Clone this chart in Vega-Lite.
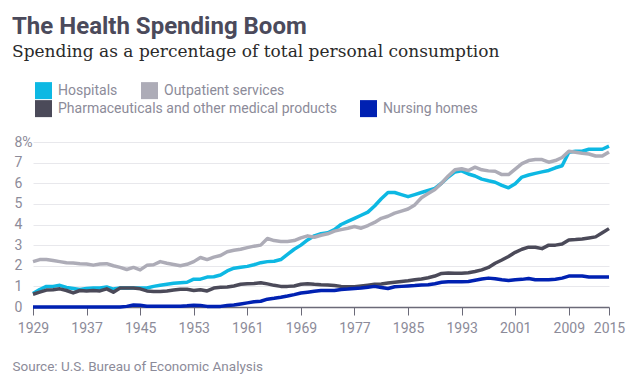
{
  "$schema": "https://vega.github.io/schema/vega-lite/v6.json",
  "autosize": {"type": "none"},
  "width": 576,
  "height": 165,
  "padding": {"left": 33, "top": 142, "right": 31, "bottom": 76},
  "background": "white",
  "title": {
    "text": "The Health Spending Boom",
    "subtitle": "Spending as a percentage of total personal consumption",
    "anchor": "start",
    "frame": "group",
    "dx": -21,
    "font": "Roboto",
    "fontSize": 24,
    "fontWeight": "bold",
    "color": "#4b4a5b",
    "subtitleFont": "DejaVu Serif",
    "subtitleFontSize": 17,
    "subtitleColor": "#2a2a2a",
    "subtitlePadding": 5,
    "offset": 22
  },
  "config": {
    "view": {"stroke": null},
    "font": "Roboto",
    "legend": {
      "title": null,
      "orient": "none",
      "direction": "horizontal",
      "columnPadding": 10,
      "symbolType": "square",
      "symbolSize": 72.25,
      "symbolStrokeWidth": 8.5,
      "symbolFillColor": "transparent",
      "labelOffset": 6,
      "labelLimit": 0,
      "labelFont": "Roboto",
      "labelFontSize": 14,
      "labelColor": "#8c8b99"
    }
  },
  "data": {
    "values": [
      {"year":1929,"Hospitals":0.65,"Outpatient services":2.2,"Pharmaceuticals and other medical products":0.62,"Nursing homes":0.0},
      {"year":1930,"Hospitals":0.85,"Outpatient services":2.3,"Pharmaceuticals and other medical products":0.72,"Nursing homes":0.0},
      {"year":1931,"Hospitals":1.0,"Outpatient services":2.3,"Pharmaceuticals and other medical products":0.82,"Nursing homes":0.0},
      {"year":1932,"Hospitals":1.0,"Outpatient services":2.25,"Pharmaceuticals and other medical products":0.84,"Nursing homes":0.0},
      {"year":1933,"Hospitals":1.05,"Outpatient services":2.2,"Pharmaceuticals and other medical products":0.88,"Nursing homes":0.0},
      {"year":1934,"Hospitals":0.95,"Outpatient services":2.15,"Pharmaceuticals and other medical products":0.8,"Nursing homes":0.0},
      {"year":1935,"Hospitals":0.9,"Outpatient services":2.13,"Pharmaceuticals and other medical products":0.68,"Nursing homes":0.0},
      {"year":1936,"Hospitals":0.85,"Outpatient services":2.1,"Pharmaceuticals and other medical products":0.8,"Nursing homes":0.0},
      {"year":1937,"Hospitals":0.9,"Outpatient services":2.08,"Pharmaceuticals and other medical products":0.78,"Nursing homes":0.0},
      {"year":1938,"Hospitals":0.92,"Outpatient services":2.03,"Pharmaceuticals and other medical products":0.8,"Nursing homes":0.0},
      {"year":1939,"Hospitals":0.92,"Outpatient services":2.08,"Pharmaceuticals and other medical products":0.78,"Nursing homes":0.0},
      {"year":1940,"Hospitals":0.97,"Outpatient services":2.1,"Pharmaceuticals and other medical products":0.88,"Nursing homes":0.0},
      {"year":1941,"Hospitals":0.87,"Outpatient services":2.0,"Pharmaceuticals and other medical products":0.72,"Nursing homes":0.0},
      {"year":1942,"Hospitals":0.92,"Outpatient services":1.92,"Pharmaceuticals and other medical products":0.92,"Nursing homes":0.0},
      {"year":1943,"Hospitals":0.92,"Outpatient services":1.82,"Pharmaceuticals and other medical products":0.92,"Nursing homes":0.03},
      {"year":1944,"Hospitals":0.92,"Outpatient services":1.92,"Pharmaceuticals and other medical products":0.92,"Nursing homes":0.1},
      {"year":1945,"Hospitals":0.92,"Outpatient services":1.8,"Pharmaceuticals and other medical products":0.88,"Nursing homes":0.08},
      {"year":1946,"Hospitals":0.92,"Outpatient services":2.02,"Pharmaceuticals and other medical products":0.78,"Nursing homes":0.04},
      {"year":1947,"Hospitals":1.0,"Outpatient services":2.05,"Pharmaceuticals and other medical products":0.75,"Nursing homes":0.04},
      {"year":1948,"Hospitals":1.05,"Outpatient services":2.2,"Pharmaceuticals and other medical products":0.75,"Nursing homes":0.04},
      {"year":1949,"Hospitals":1.1,"Outpatient services":2.12,"Pharmaceuticals and other medical products":0.78,"Nursing homes":0.04},
      {"year":1950,"Hospitals":1.15,"Outpatient services":2.06,"Pharmaceuticals and other medical products":0.82,"Nursing homes":0.04},
      {"year":1951,"Hospitals":1.18,"Outpatient services":2.0,"Pharmaceuticals and other medical products":0.86,"Nursing homes":0.04},
      {"year":1952,"Hospitals":1.2,"Outpatient services":2.07,"Pharmaceuticals and other medical products":0.86,"Nursing homes":0.06},
      {"year":1953,"Hospitals":1.35,"Outpatient services":2.2,"Pharmaceuticals and other medical products":0.8,"Nursing homes":0.09},
      {"year":1954,"Hospitals":1.35,"Outpatient services":2.4,"Pharmaceuticals and other medical products":0.84,"Nursing homes":0.07},
      {"year":1955,"Hospitals":1.45,"Outpatient services":2.3,"Pharmaceuticals and other medical products":0.78,"Nursing homes":0.03},
      {"year":1956,"Hospitals":1.47,"Outpatient services":2.42,"Pharmaceuticals and other medical products":0.92,"Nursing homes":0.03},
      {"year":1957,"Hospitals":1.55,"Outpatient services":2.5,"Pharmaceuticals and other medical products":0.96,"Nursing homes":0.03},
      {"year":1958,"Hospitals":1.75,"Outpatient services":2.68,"Pharmaceuticals and other medical products":0.97,"Nursing homes":0.07},
      {"year":1959,"Hospitals":1.88,"Outpatient services":2.75,"Pharmaceuticals and other medical products":1.02,"Nursing homes":0.1},
      {"year":1960,"Hospitals":1.93,"Outpatient services":2.8,"Pharmaceuticals and other medical products":1.1,"Nursing homes":0.15},
      {"year":1961,"Hospitals":1.97,"Outpatient services":2.88,"Pharmaceuticals and other medical products":1.13,"Nursing homes":0.2},
      {"year":1962,"Hospitals":2.05,"Outpatient services":2.95,"Pharmaceuticals and other medical products":1.14,"Nursing homes":0.25},
      {"year":1963,"Hospitals":2.15,"Outpatient services":3.0,"Pharmaceuticals and other medical products":1.18,"Nursing homes":0.28},
      {"year":1964,"Hospitals":2.2,"Outpatient services":3.32,"Pharmaceuticals and other medical products":1.12,"Nursing homes":0.38},
      {"year":1965,"Hospitals":2.22,"Outpatient services":3.22,"Pharmaceuticals and other medical products":1.05,"Nursing homes":0.42},
      {"year":1966,"Hospitals":2.3,"Outpatient services":3.18,"Pharmaceuticals and other medical products":1.0,"Nursing homes":0.47},
      {"year":1967,"Hospitals":2.55,"Outpatient services":3.18,"Pharmaceuticals and other medical products":1.0,"Nursing homes":0.53},
      {"year":1968,"Hospitals":2.8,"Outpatient services":3.22,"Pharmaceuticals and other medical products":1.02,"Nursing homes":0.6},
      {"year":1969,"Hospitals":3.0,"Outpatient services":3.35,"Pharmaceuticals and other medical products":1.1,"Nursing homes":0.68},
      {"year":1970,"Hospitals":3.25,"Outpatient services":3.45,"Pharmaceuticals and other medical products":1.13,"Nursing homes":0.72},
      {"year":1971,"Hospitals":3.45,"Outpatient services":3.38,"Pharmaceuticals and other medical products":1.1,"Nursing homes":0.76},
      {"year":1972,"Hospitals":3.55,"Outpatient services":3.48,"Pharmaceuticals and other medical products":1.08,"Nursing homes":0.8},
      {"year":1973,"Hospitals":3.6,"Outpatient services":3.55,"Pharmaceuticals and other medical products":1.07,"Nursing homes":0.8},
      {"year":1974,"Hospitals":3.75,"Outpatient services":3.68,"Pharmaceuticals and other medical products":1.04,"Nursing homes":0.8},
      {"year":1975,"Hospitals":4.0,"Outpatient services":3.75,"Pharmaceuticals and other medical products":1.0,"Nursing homes":0.85},
      {"year":1976,"Hospitals":4.15,"Outpatient services":3.82,"Pharmaceuticals and other medical products":0.98,"Nursing homes":0.87},
      {"year":1977,"Hospitals":4.3,"Outpatient services":3.9,"Pharmaceuticals and other medical products":0.98,"Nursing homes":0.9},
      {"year":1978,"Hospitals":4.45,"Outpatient services":3.82,"Pharmaceuticals and other medical products":1.02,"Nursing homes":0.92},
      {"year":1979,"Hospitals":4.6,"Outpatient services":3.95,"Pharmaceuticals and other medical products":1.06,"Nursing homes":0.96},
      {"year":1980,"Hospitals":4.9,"Outpatient services":4.1,"Pharmaceuticals and other medical products":1.1,"Nursing homes":1.0},
      {"year":1981,"Hospitals":5.25,"Outpatient services":4.3,"Pharmaceuticals and other medical products":1.12,"Nursing homes":0.95},
      {"year":1982,"Hospitals":5.55,"Outpatient services":4.4,"Pharmaceuticals and other medical products":1.16,"Nursing homes":0.9},
      {"year":1983,"Hospitals":5.55,"Outpatient services":4.55,"Pharmaceuticals and other medical products":1.2,"Nursing homes":0.98},
      {"year":1984,"Hospitals":5.45,"Outpatient services":4.65,"Pharmaceuticals and other medical products":1.24,"Nursing homes":1.0},
      {"year":1985,"Hospitals":5.35,"Outpatient services":4.75,"Pharmaceuticals and other medical products":1.27,"Nursing homes":1.02},
      {"year":1986,"Hospitals":5.45,"Outpatient services":4.95,"Pharmaceuticals and other medical products":1.32,"Nursing homes":1.04},
      {"year":1987,"Hospitals":5.55,"Outpatient services":5.3,"Pharmaceuticals and other medical products":1.36,"Nursing homes":1.07},
      {"year":1988,"Hospitals":5.65,"Outpatient services":5.5,"Pharmaceuticals and other medical products":1.42,"Nursing homes":1.08},
      {"year":1989,"Hospitals":5.75,"Outpatient services":5.7,"Pharmaceuticals and other medical products":1.5,"Nursing homes":1.13},
      {"year":1990,"Hospitals":6.0,"Outpatient services":6.0,"Pharmaceuticals and other medical products":1.63,"Nursing homes":1.2},
      {"year":1991,"Hospitals":6.3,"Outpatient services":6.35,"Pharmaceuticals and other medical products":1.65,"Nursing homes":1.22},
      {"year":1992,"Hospitals":6.55,"Outpatient services":6.65,"Pharmaceuticals and other medical products":1.64,"Nursing homes":1.22},
      {"year":1993,"Hospitals":6.6,"Outpatient services":6.7,"Pharmaceuticals and other medical products":1.64,"Nursing homes":1.22},
      {"year":1994,"Hospitals":6.45,"Outpatient services":6.62,"Pharmaceuticals and other medical products":1.66,"Nursing homes":1.24},
      {"year":1995,"Hospitals":6.35,"Outpatient services":6.78,"Pharmaceuticals and other medical products":1.72,"Nursing homes":1.3},
      {"year":1996,"Hospitals":6.2,"Outpatient services":6.65,"Pharmaceuticals and other medical products":1.8,"Nursing homes":1.36},
      {"year":1997,"Hospitals":6.12,"Outpatient services":6.6,"Pharmaceuticals and other medical products":1.92,"Nursing homes":1.4},
      {"year":1998,"Hospitals":6.05,"Outpatient services":6.58,"Pharmaceuticals and other medical products":2.12,"Nursing homes":1.37},
      {"year":1999,"Hospitals":5.9,"Outpatient services":6.42,"Pharmaceuticals and other medical products":2.28,"Nursing homes":1.32},
      {"year":2000,"Hospitals":5.78,"Outpatient services":6.42,"Pharmaceuticals and other medical products":2.45,"Nursing homes":1.28},
      {"year":2001,"Hospitals":5.98,"Outpatient services":6.68,"Pharmaceuticals and other medical products":2.65,"Nursing homes":1.32},
      {"year":2002,"Hospitals":6.3,"Outpatient services":6.95,"Pharmaceuticals and other medical products":2.8,"Nursing homes":1.34},
      {"year":2003,"Hospitals":6.4,"Outpatient services":7.1,"Pharmaceuticals and other medical products":2.9,"Nursing homes":1.38},
      {"year":2004,"Hospitals":6.48,"Outpatient services":7.15,"Pharmaceuticals and other medical products":2.9,"Nursing homes":1.32},
      {"year":2005,"Hospitals":6.55,"Outpatient services":7.15,"Pharmaceuticals and other medical products":2.83,"Nursing homes":1.32},
      {"year":2006,"Hospitals":6.62,"Outpatient services":7.02,"Pharmaceuticals and other medical products":3.0,"Nursing homes":1.32},
      {"year":2007,"Hospitals":6.75,"Outpatient services":7.1,"Pharmaceuticals and other medical products":3.0,"Nursing homes":1.35},
      {"year":2008,"Hospitals":6.85,"Outpatient services":7.25,"Pharmaceuticals and other medical products":3.05,"Nursing homes":1.4},
      {"year":2009,"Hospitals":7.5,"Outpatient services":7.55,"Pharmaceuticals and other medical products":3.25,"Nursing homes":1.5},
      {"year":2010,"Hospitals":7.55,"Outpatient services":7.5,"Pharmaceuticals and other medical products":3.27,"Nursing homes":1.5},
      {"year":2011,"Hospitals":7.55,"Outpatient services":7.45,"Pharmaceuticals and other medical products":3.3,"Nursing homes":1.5},
      {"year":2012,"Hospitals":7.65,"Outpatient services":7.42,"Pharmaceuticals and other medical products":3.35,"Nursing homes":1.45},
      {"year":2013,"Hospitals":7.65,"Outpatient services":7.32,"Pharmaceuticals and other medical products":3.4,"Nursing homes":1.45},
      {"year":2014,"Hospitals":7.65,"Outpatient services":7.32,"Pharmaceuticals and other medical products":3.6,"Nursing homes":1.45},
      {"year":2015,"Hospitals":7.8,"Outpatient services":7.52,"Pharmaceuticals and other medical products":3.8,"Nursing homes":1.45}
    ]
  },
  "transform": [
    {"fold": ["Hospitals", "Outpatient services", "Pharmaceuticals and other medical products", "Nursing homes"], "as": ["series", "value"]}
  ],
  "encoding": {
    "x": {
      "field": "year",
      "type": "quantitative",
      "scale": {"domain": [1929, 2015], "nice": false, "zero": false},
      "axis": {
        "orient": "bottom",
        "values": [1929, 1937, 1945, 1953, 1961, 1969, 1977, 1985, 1993, 2001, 2009, 2015],
        "format": "d",
        "grid": false,
        "domainColor": "#6b6a78",
        "domainWidth": 1.5,
        "tickColor": "#6b6a78",
        "tickSize": 8,
        "tickWidth": 1,
        "labelFont": "Roboto",
        "labelFontSize": 14,
        "labelColor": "#8c8b99",
        "labelPadding": 6,
        "labelFlush": false,
        "title": "Source: U.S. Bureau of Economic Analysis",
        "titleFont": "Roboto",
        "titleFontSize": 13.5,
        "titleFontWeight": "normal",
        "titleColor": "#8c8b99",
        "titleAnchor": "start",
        "titleAlign": "left",
        "titleBaseline": "middle",
        "titleX": -21,
        "titleY": 59
      }
    },
    "y": {
      "field": "value",
      "type": "quantitative",
      "scale": {"domain": [0, 8], "nice": false},
      "axis": {
        "orient": "left",
        "values": [0, 1, 2, 3, 4, 5, 6, 7, 8],
        "labelExpr": "datum.value == 8 ? '8%' : datum.label",
        "grid": true,
        "gridColor": "#e8e8ec",
        "gridWidth": 1,
        "domain": false,
        "ticks": false,
        "tickSize": 0,
        "labelAlign": "left",
        "labelBaseline": "middle",
        "labelPadding": 19,
        "labelFont": "Roboto",
        "labelFontSize": 14,
        "labelColor": "#8c8b99",
        "title": null
      }
    }
  },
  "layer": [
    {
      "transform": [{"filter": {"field": "series", "oneOf": ["Hospitals", "Outpatient services"]}}],
      "mark": {"type": "line", "strokeWidth": 3.5, "strokeJoin": "round"},
      "encoding": {
        "color": {
          "field": "series",
          "type": "nominal",
          "scale": {"domain": ["Hospitals", "Outpatient services"], "range": ["#0db8e3", "#adacb7"]},
          "legend": {"legendX": 2, "legendY": -60}
        }
      }
    },
    {
      "transform": [{"filter": {"field": "series", "oneOf": ["Pharmaceuticals and other medical products", "Nursing homes"]}}],
      "mark": {"type": "line", "strokeWidth": 3.5, "strokeJoin": "round"},
      "encoding": {
        "color": {
          "field": "series",
          "type": "nominal",
          "scale": {"domain": ["Pharmaceuticals and other medical products", "Nursing homes"], "range": ["#4b4a59", "#0021b2"]},
          "legend": {"legendX": 2, "legendY": -42}
        }
      }
    }
  ],
  "resolve": {"scale": {"color": "independent"}}
}
